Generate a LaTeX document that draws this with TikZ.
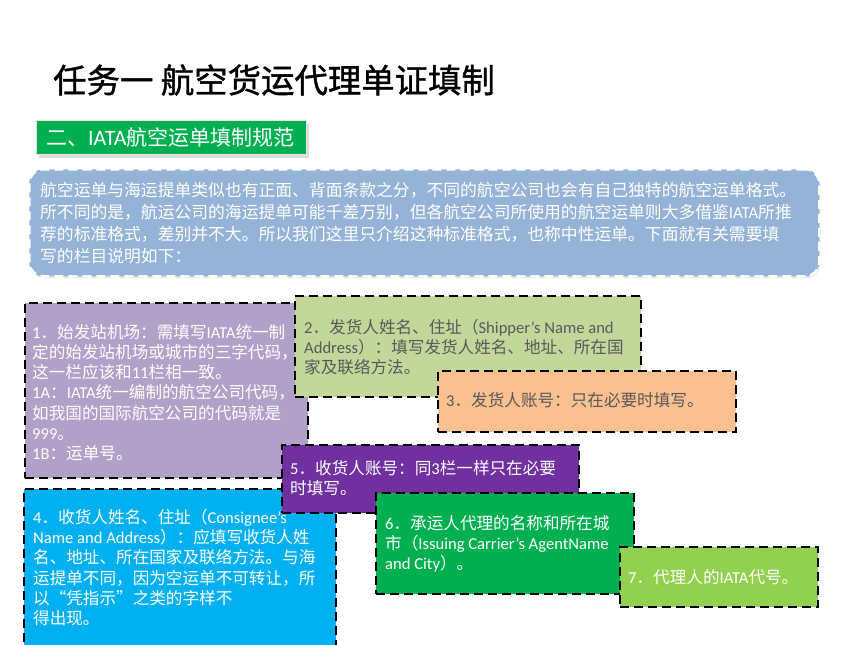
\documentclass[tikz,border=0pt]{standalone}
\usepackage{fontspec}
\setmainfont{Noto Sans CJK SC}
\newfontfamily\enfont{Carlito}
\newfontfamily\titlefont[FakeBold=1.2]{Noto Sans CJK SC}
\newcommand\enf[1]{{\enfont #1}}
\usetikzlibrary{shadows}
\definecolor{cLav}{HTML}{B1A0C7}
\definecolor{cOlive}{HTML}{C4D79B}
\definecolor{cPeach}{HTML}{FAC090}
\definecolor{cPurple}{HTML}{7030A0}
\definecolor{cCyan}{HTML}{00B0F0}
\definecolor{cGreen}{HTML}{00B050}
\definecolor{cLime}{HTML}{92D050}
\definecolor{cSky}{HTML}{95B3D7}
\definecolor{cGrayText}{HTML}{595959}
\tikzset{
  box/.style={rectangle, draw=black, line width=2.2pt, dash pattern=on 9pt off 5pt, anchor=north west, inner sep=0pt},
  txt/.style={anchor=north west, inner sep=0pt, align=left, font=\fontsize{16.6}{20.2}\selectfont},
}
\begin{document}
\begin{tikzpicture}[x=1pt,y=-1pt]
\useasboundingbox[fill=white] (0,0) rectangle (860,645);

% title
\node[anchor=west, inner sep=0pt, font=\titlefont\fontsize{33.4}{38}\selectfont, text=black] (title) at (53,80) {任务一 航空货运代理单证填制};

% green label
\node[rectangle, anchor=north west, minimum width=270pt, minimum height=34pt, fill=cGreen, draw=white!80!gray, line width=1pt,
      drop shadow={shadow xshift=2pt, shadow yshift=-3pt, fill=gray!55}] (lbl) at (36,120) {};
\node[anchor=west, inner sep=0pt, font=\fontsize{21}{25}\selectfont, text=white] (lbltxt) at (46,137) {二、\enf{\fontsize{22}{25}\selectfont IATA}航空运单填制规范};

% blue intro box
\node[rectangle, anchor=north west, minimum width=790pt, minimum height=107pt, rounded corners=14pt, fill=cSky,
      draw=white, line width=2.5pt, dash pattern=on 9pt off 5pt,
      drop shadow={shadow xshift=1pt, shadow yshift=-2pt, fill=gray!35}] (intro) at (28,168) {};
\node[txt, font=\fontsize{16.8}{22}\selectfont, text=white] (introtxt) at (40,182) {航空运单与海运提单类似也有正面、背面条款之分，不同的航空公司也会有自己独特的航空运单格式。\\
所不同的是，航运公司的海运提单可能千差万别，但各航空公司所使用的航空运单则大多借鉴\enf{IATA}所推\\
荐的标准格式，差别并不大。所以我们这里只介绍这种标准格式，也称中性运单。下面就有关需要填\\
写的栏目说明如下：};

% box 1
\node[box, fill=cLav, minimum width=283pt, minimum height=175pt] (b1) at (24,302) {};
\node[txt, text=white] (t1) at (32,324) {\enf{1}．始发站机场：需填写\enf{IATA}统一制\\
定的始发站机场或城市的三字代码，\\
这一栏应该和\enf{11}栏相一致。\\
\enf{1A}：\enf{IATA}统一编制的航空公司代码，\\
如我国的国际航空公司的代码就是\\
\enf{999}。\\
\enf{1B}：运单号。};

% box 4
\node[box, fill=cCyan, minimum width=312pt, minimum height=170pt] (b4) at (23,488) {};
\node[txt, text=white] (t4) at (33,509) {\enf{4}．收货人姓名、住址（\enf{Consignee’s}\\
\enf{Name and Address}）：应填写收货人姓\\
名、地址、所在国家及联络方法。与海\\
运提单不同，因为空运单不可转让，所\\
以“凭指示”之类的字样不\\
得出现。};

% box 2
\node[box, fill=cOlive, minimum width=346pt, minimum height=101pt] (b2) at (294,295) {};
\node[txt, text=cGrayText] (t2) at (304,319) {\enf{2}．发货人姓名、住址（\enf{Shipper’s Name and}\\
\enf{Address}）：填写发货人姓名、地址、所在国\\
家及联络方法。};

% box 3
\node[box, fill=cPeach, minimum width=298pt, minimum height=61pt] (b3) at (437,370) {};
\node[txt, text=cGrayText] (t3) at (446,392) {\enf{3}．发货人账号：只在必要时填写。};

% box 5
\node[box, fill=cPurple, minimum width=297pt, minimum height=68pt] (b5) at (281,444) {};
\node[txt, text=white] (t5) at (290,460) {\enf{5}．收货人账号：同\enf{3}栏一样只在必要\\
时填写。};

% box 6
\node[box, fill=cGreen, minimum width=258pt, minimum height=101pt] (b6) at (375,492) {};
\node[txt, text=white] (t6) at (385,515) {\enf{6}．承运人代理的名称和所在城\\
市（\enf{Issuing Carrier’s AgentName}\\
\enf{and City}）。};

% box 7
\node[box, fill=cLime, minimum width=198pt, minimum height=60pt] (b7) at (619,546) {};
\node[txt, text=white] (t7) at (628,569) {\enf{7}．代理人的\enf{IATA}代号。};
\end{tikzpicture}
\end{document}
